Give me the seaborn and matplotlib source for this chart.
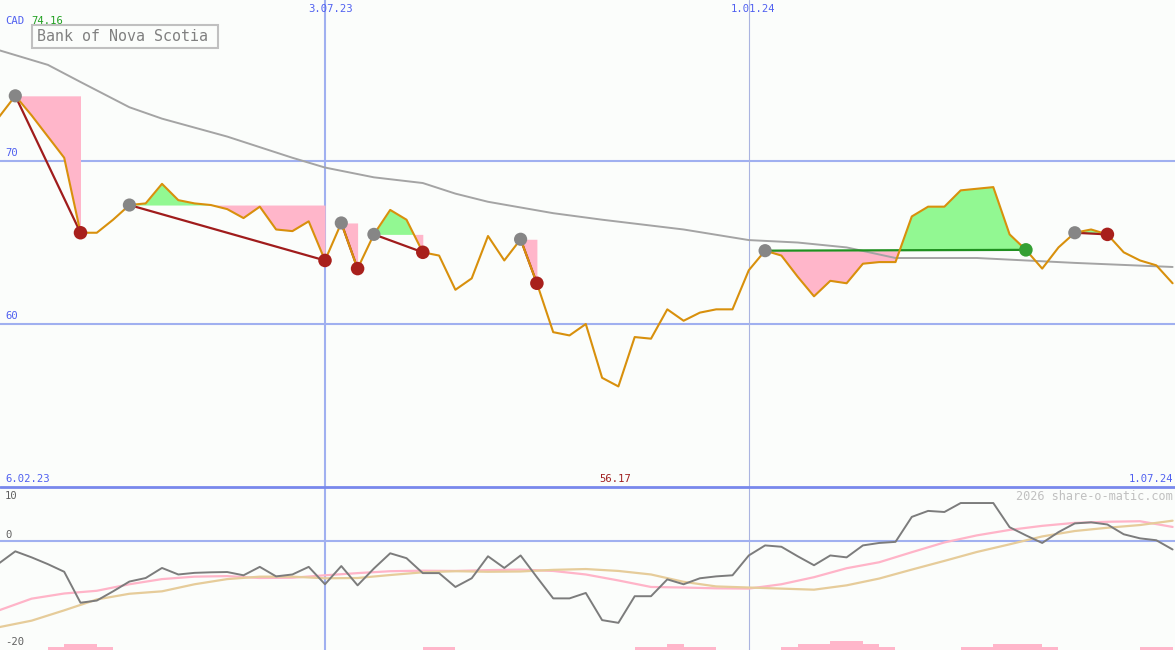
import numpy as np
import matplotlib
matplotlib.use("Agg")
import matplotlib.pyplot as plt
import matplotlib.patches as patches
import seaborn as sns

# Datos semanales (indice de semana, 0 = feb 2023)
weeks = np.arange(73)
price = np.array([
    72.7, 74.0, 72.8, 71.5, 70.2, 65.6, 65.6, 66.4, 67.3, 67.4,
    68.6, 67.6, 67.4, 67.3, 67.05, 66.5, 67.2, 65.8, 65.7, 66.3,
    63.9, 66.2, 63.4, 65.5, 67.0, 66.4, 64.4, 64.2, 62.1, 62.8,
    65.4, 63.9, 65.2, 62.5, 59.5, 59.3, 60.0, 56.7, 56.17, 59.2,
    59.1, 60.9, 60.2, 60.7, 60.9, 60.9, 63.3, 64.5, 64.2, 62.9,
    61.7, 62.65, 62.5, 63.7, 63.8, 63.8, 66.6, 67.2, 67.2, 68.2,
    68.3, 68.4, 65.5, 64.55, 63.4, 64.7, 65.6, 65.8, 65.5, 64.4,
    63.9, 63.6, 62.5])

sma_weeks = [0, 2, 3, 5, 8, 10, 14, 18, 20, 23, 26, 28, 30, 34, 37, 42, 46, 49, 52, 55, 60, 63, 66, 72]
sma = [76.8, 76.2, 75.9, 74.85, 73.3, 72.6, 71.5, 70.2, 69.6, 69.0, 68.65, 68.0, 67.5,
       66.8, 66.4, 65.8, 65.15, 65.0, 64.7, 64.05, 64.05, 63.9, 63.75, 63.5]

# Operaciones: semana de entrada y de salida
entries = [1, 8, 21, 23, 32, 47, 66]
exits = [5, 20, 22, 26, 33, 63, 68]

# Panel inferior
momentum = [
    -4.05, -1.84, -2.95, -4.2, -5.6, -11.3, -10.9, -9.2, -7.4, -6.75,
    -4.9, -6.1, -5.8, -5.7, -5.65, -6.25, -4.7, -6.45, -6.1, -4.7,
    -7.9, -4.55, -8.1, -5.0, -2.2, -3.1, -5.85, -5.85, -8.4, -6.8,
    -2.75, -4.9, -2.6, -6.6, -10.5, -10.5, -9.5, -14.5, -15.0, -10.1,
    -10.1, -7.0, -7.9, -6.8, -6.45, -6.25, -2.6, -0.75, -1.0, -2.75,
    -4.4, -2.6, -2.95, -0.75, -0.3, -0.1, 4.5, 5.6, 5.4, 7.05,
    7.05, 7.05, 2.6, 1.1, -0.3, 1.7, 3.3, 3.5, 3.1, 1.3,
    0.55, 0.2, -1.5]
avg_weeks = list(range(0, 73, 2))
avg_fast = [-12.7, -10.55, -9.6, -9.1, -7.9, -6.95, -6.5, -6.4, -6.75, -6.7,
            -6.25, -5.85, -5.5, -5.4, -5.45, -5.3, -5.2, -5.45, -6.1, -7.2,
            -8.4, -8.5, -8.65, -8.7, -7.9, -6.6, -4.95, -3.85, -2.0, -0.2,
            1.1, 2.1, 2.85, 3.4, 3.6, 3.7, 2.65]
avg_slow = [-15.8, -14.6, -12.7, -10.7, -9.65, -9.2, -7.9, -6.95, -6.5, -6.5,
            -6.8, -6.75, -6.2, -5.7, -5.5, -5.6, -5.55, -5.25, -5.1, -5.45,
            -6.1, -7.45, -8.3, -8.5, -8.7, -8.9, -8.1, -6.85, -5.2, -3.6,
            -1.95, -0.55, 0.9, 1.9, 2.5, 3.0, 3.8]
bar_weeks = [3, 4, 5, 6, 26, 27, 39, 40, 41, 42, 43, 48, 49, 50, 51, 52, 53, 54,
             59, 60, 61, 62, 63, 64, 70, 71]
bar_h = [0.6, 1.1, 1.1, 0.6, 0.6, 0.6, 0.6, 0.6, 1.1, 0.6, 0.6, 0.6, 1.1, 1.1,
         1.65, 1.65, 1.1, 0.6, 0.6, 0.6, 1.1, 1.1, 1.1, 0.6, 0.6, 0.6]

# Colores
bg = "#fbfdfb"
grid_c = "#a0b0f0"
orange = "#d8900c"
darkred = "#a01c1c"
pink = "#ffb6ca"
green_fill = "#92f892"

sns.set_style("white")
plt.rcParams['font.family'] = ['DejaVu Sans Mono']

W, H = 1175, 650
fig = plt.figure(figsize=(W / 100, H / 100), dpi=100, facecolor=bg)
split = (H - 487) / H
ax = fig.add_axes([0, split, 1, 1 - split])
ax2 = fig.add_axes([0, 0, 1, split])
for a in (ax, ax2):
    a.set_facecolor(bg)
    for s in a.spines.values():
        s.set_visible(False)
    a.set_xticks([])
    a.set_yticks([])
    a.set_xlim(1 / 16.3, 1176 / 16.3)

ax.set_ylim(50, 79.88)
ax2.set_ylim(-20, 10)

# Rejilla
for lvl in (70, 60):
    ax.axhline(lvl, color=grid_c, lw=1.5, zorder=1)
for a in (ax, ax2):
    a.axvline(20, color=grid_c, lw=1.5, zorder=1)
    a.axvline(46, color="#aab4e0", lw=0.8, zorder=1)
ax2.axhline(0, color=grid_c, lw=1.5, zorder=1)
ax2.axhline(10, color="#7888ec", lw=2.0, zorder=5, clip_on=False)

# Zonas de ganancia / perdida
for e, x in zip(entries, exits):
    ks = weeks[e:x + 1]
    ps = price[e:x + 1]
    lvl = price[e]
    ax.fill_between(ks, ps, lvl, where=ps < lvl, interpolate=True, color=pink, lw=0, zorder=2)
    ax.fill_between(ks, ps, lvl, where=ps >= lvl, interpolate=True, color=green_fill, lw=0, zorder=2)

sns.lineplot(x=sma_weeks, y=sma, ax=ax, color="#a4a4a4", linewidth=1.4, zorder=3)

for e, x in zip(entries, exits):
    c = "#209020" if price[x] >= price[e] else darkred
    ax.plot([e, x], [price[e], price[x]], color=c, lw=1.6, zorder=4)

sns.lineplot(x=weeks, y=price, ax=ax, color=orange, linewidth=1.5, zorder=5)

sns.scatterplot(x=entries, y=price[entries], ax=ax, color="#868686", s=90,
                edgecolor="none", zorder=6)
exit_cols = ["#34a034" if price[x] >= price[e] else "#a8201c" for e, x in zip(entries, exits)]
ax.scatter(exits, price[exits], c=exit_cols, s=95, edgecolors="none", zorder=6)

# Panel inferior
ax2.bar(bar_weeks, bar_h, width=1, align="edge", bottom=-20, color=pink, lw=0, zorder=2)
sns.lineplot(x=avg_weeks, y=avg_fast, ax=ax2, color="#ffb4c8", linewidth=1.6, zorder=3)
sns.lineplot(x=avg_weeks, y=avg_slow, ax=ax2, color="#e6cc9a", linewidth=1.6, zorder=3)
sns.lineplot(x=weeks, y=momentum, ax=ax2, color="#7c7c7c", linewidth=1.4, zorder=4)


def px(x, y):
    return x / W, 1 - y / H


small = 7.6
fig.text(*px(5, 21), "CAD", color="#5060f0", fontsize=small, va="center")
fig.text(*px(31, 21), "74.16", color="#20a020", fontsize=small, va="center")
fig.patches.append(patches.Rectangle(px(32, 48), 186 / W, 23 / H, transform=fig.transFigure,
                                     fill=False, ec="#c0c0c0", lw=1.5))
fig.text(*px(37, 36.5), "Bank of Nova Scotia", color="#808080", fontsize=10.8, va="center")
fig.text(*px(331, 9), "3.07.23", color="#5060f0", fontsize=small, va="center", ha="center")
fig.text(*px(753, 9), "1.01.24", color="#5060f0", fontsize=small, va="center", ha="center")
fig.text(*px(5, 153), "70", color="#5060f0", fontsize=small, va="center")
fig.text(*px(5, 316), "60", color="#5060f0", fontsize=small, va="center")
fig.text(*px(5, 479), "6.02.23", color="#5060f0", fontsize=small, va="center")
fig.text(*px(615, 479), "56.17", color="#a02020", fontsize=small, va="center", ha="center")
fig.text(*px(1173, 479), "1.07.24", color="#5060f0", fontsize=small, va="center", ha="right")
fig.text(*px(1173, 496), "2026 share-o-matic.com", color="#c0c0c0", fontsize=8.6,
         va="center", ha="right")
fig.text(*px(5, 496), "10", color="#606060", fontsize=small, va="center")
fig.text(*px(5, 535), "0", color="#606060", fontsize=small, va="center")
fig.text(*px(5, 642), "-20", color="#606060", fontsize=small, va="center")

fig.savefig("out.png", dpi=100, facecolor=bg)
